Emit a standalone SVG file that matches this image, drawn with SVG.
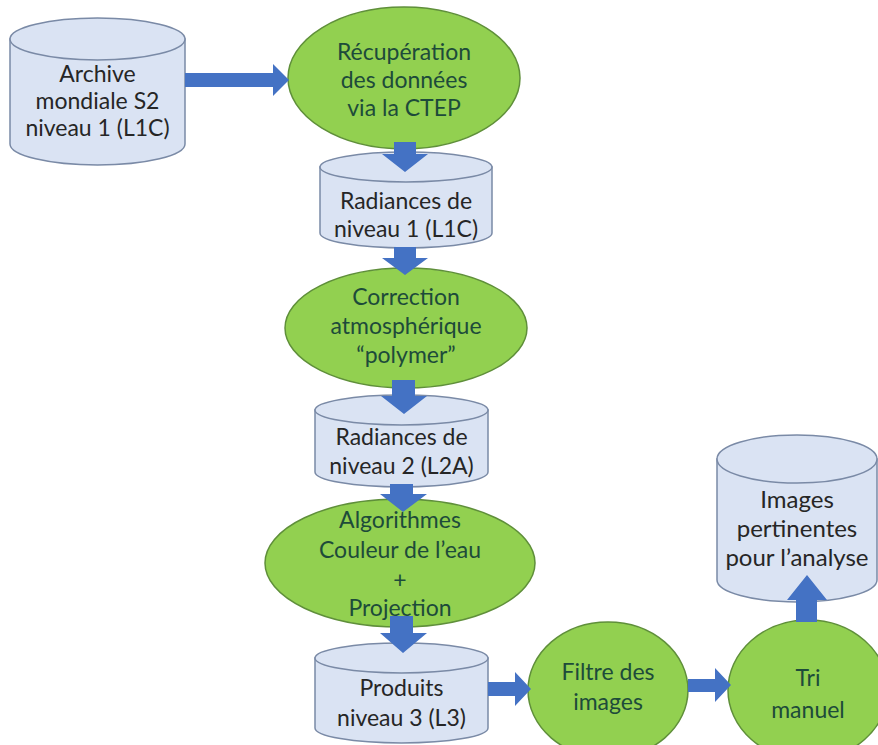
<svg xmlns="http://www.w3.org/2000/svg" width="878" height="745" viewBox="0 0 878 745">
<style>
.cyl{fill:#dae3f3;stroke:#7a8aa6;stroke-width:1.5}
.proc{fill:#92d050;stroke:#5f8f3a;stroke-width:1.5}
.arr{fill:#4472c4;stroke:none}
text{font-family:Lato,"Open Sans",sans-serif;font-size:23px;text-anchor:middle}
.tc{fill:#262626}
.tp{fill:#1d4b3a}
.big{font-size:24px}
</style>
<rect width="878" height="745" fill="#ffffff"/>
<g id="archive">
<path class="cyl" d="M10,39 V144 A87.5,21 0 0 0 185,144 V39 Z"/>
<ellipse class="cyl" cx="97.5" cy="39" rx="87.5" ry="21"/>
<text class="tc" x="97.5" y="82">Archive</text>
<text class="tc" x="97.5" y="109">mondiale S2</text>
<text class="tc" x="97.5" y="136">niveau 1 (L1C)</text>
</g>
<g id="recuperation">
<ellipse class="proc" cx="404" cy="78" rx="116" ry="71"/>
<text class="tp" x="404" y="60">Récupération</text>
<text class="tp" x="404" y="88">des données</text>
<text class="tp" x="404" y="116">via la CTEP</text>
</g>
<g id="radiances1">
<path class="cyl" d="M320,167 V233 A86,15 0 0 0 492,233 V167 Z"/>
<ellipse class="cyl" cx="406" cy="167" rx="86" ry="15"/>
<text class="tc" x="406" y="209">Radiances de</text>
<text class="tc" x="406" y="237">niveau 1 (L1C)</text>
</g>
<g id="correction">
<ellipse class="proc" cx="406" cy="328" rx="121" ry="60"/>
<text class="tp" x="406" y="305">Correction</text>
<text class="tp" x="406" y="334">atmosphérique</text>
<text class="tp" x="406" y="363">“polymer”</text>
</g>
<g id="radiances2">
<path class="cyl" d="M315,410 V472 A86.5,15 0 0 0 488,472 V410 Z"/>
<ellipse class="cyl" cx="401.5" cy="410" rx="86.5" ry="15"/>
<text class="tc" x="401.5" y="445">Radiances de</text>
<text class="tc" x="401.5" y="474">niveau 2 (L2A)</text>
</g>
<g id="algorithmes">
<ellipse class="proc" cx="400" cy="563" rx="135" ry="64"/>
<text class="tp" x="400" y="528">Algorithmes</text>
<text class="tp" x="400" y="558">Couleur de l’eau</text>
<text class="tp" x="400" y="588">+</text>
<text class="tp" x="400" y="616">Projection</text>
</g>
<g id="produits">
<path class="cyl" d="M315,658 V728 A86.5,15 0 0 0 488,728 V658 Z"/>
<ellipse class="cyl" cx="401.5" cy="658" rx="86.5" ry="15"/>
<text class="tc" x="401.5" y="696">Produits</text>
<text class="tc" x="401.5" y="726">niveau 3 (L3)</text>
</g>
<g id="filtre">
<ellipse class="proc" cx="608" cy="690" rx="80" ry="68"/>
<text class="tp" x="608" y="680">Filtre des</text>
<text class="tp" x="608" y="710">images</text>
</g>
<g id="tri">
<ellipse class="proc" cx="808" cy="690" rx="80" ry="70"/>
<text class="tp" x="808" y="686">Tri</text>
<text class="tp" x="808" y="718">manuel</text>
</g>
<g id="images">
<path class="cyl" d="M717,459 V580 A80,22 0 0 0 877,580 V459 Z"/>
<ellipse class="cyl" cx="797" cy="459" rx="80" ry="24"/>
<text class="tc big" x="797" y="508">Images</text>
<text class="tc big" x="797" y="537">pertinentes</text>
<text class="tc big" x="797" y="566">pour l’analyse</text>
</g>
<g id="connectors">
<path class="arr" d="M185,73 H273 V64 L289,80 L273,96 V87 H185 Z"/>
<path class="arr" d="M394,142 H416 V154 H428 L405,172 L382,154 H394 Z"/>
<path class="arr" d="M394,247 H416 V258 H428 L405,275 L382,258 H394 Z"/>
<path class="arr" d="M392,380 H415 V396 H427 L404,414 L381,396 H392 Z"/>
<path class="arr" d="M390,484 H413 V494 H427 L403,512 L380,494 H390 Z"/>
<path class="arr" d="M390,616 H413 V633 H427 L403,653 L380,633 H390 Z"/>
<path class="arr" d="M488,682 H515 V672 L531,689 L515,706 V696 H488 Z"/>
<path class="arr" d="M688,679 H715 V668 L731,685 L715,702 V692 H688 Z"/>
<path class="arr" d="M796,622 V600 H787 L807,575 L827,600 H817 V622 Z"/>
</g>
</svg>
